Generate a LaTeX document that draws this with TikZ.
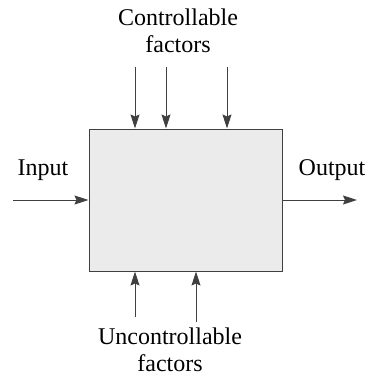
\documentclass[tikz,border=0pt]{standalone}
\usepackage{fontspec}
\setmainfont{Liberation Serif}
\usetikzlibrary{arrows.meta}
\begin{document}
\begin{tikzpicture}[x=0.5pt,y=-0.5pt,
  flecha/.style={draw=black!75, line width=0.5pt, -{Stealth[length=7pt,width=4.5pt,inset=1pt]}},
  etiqueta/.style={font=\fontsize{12}{13.5}\selectfont, align=center, inner sep=0pt}]

\useasboundingbox (0,0) rectangle (368,374);

% Caja del proceso
\node[draw=black!75, fill=black!8, line width=0.5pt, minimum width=96.5pt,
  minimum height=71pt, inner sep=0pt] (proceso) at (185.5,200) {};

% Textos
\node[etiqueta] (controlables) at (178,31) {Controllable\\factors};
\node[etiqueta] (nocontrolables) at (170,350) {Uncontrollable\\factors};
\node[etiqueta] (entrada) at (43,170) {Input};
\node[etiqueta] (salida) at (332,170) {Output};

% Extremos libres de las flechas
\coordinate (c1) at (135,67);
\coordinate (c2) at (166,67);
\coordinate (c3) at (227,67);
\coordinate (u1) at (135,317);
\coordinate (u2) at (196,322);
\coordinate (ent) at (13,200);
\coordinate (sal) at (357,200);

% Flechas
\draw[flecha] (c1) -- (c1 |- proceso.north);
\draw[flecha] (c2) -- (c2 |- proceso.north);
\draw[flecha] (c3) -- (c3 |- proceso.north);
\draw[flecha] (u1) -- (u1 |- proceso.south);
\draw[flecha] (u2) -- (u2 |- proceso.south);
\draw[flecha] (ent) -- (proceso.west);
\draw[flecha] (proceso.east) -- (sal);

\end{tikzpicture}
\end{document}
